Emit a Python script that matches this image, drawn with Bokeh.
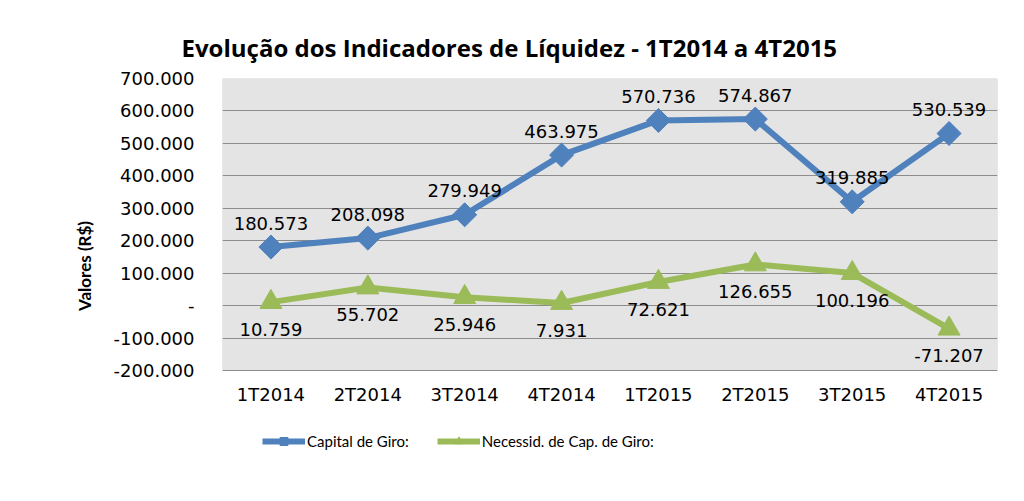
from bokeh.plotting import figure
from bokeh.models import (FactorRange, ColumnDataSource, LabelSet, FixedTicker, Legend, LegendItem,
                          BoxAnnotation, Range1d)
from bokeh.embed import file_html
from bokeh.resources import INLINE
from bokeh.core.properties import value
import math

# ---- data ----
categories = ["1T2014", "2T2014", "3T2014", "4T2014", "1T2015", "2T2015", "3T2015", "4T2015"]
capital_de_giro = [180573, 208098, 279949, 463975, 570736, 574867, 319885, 530539]
necessid_cap_giro = [10759, 55702, 25946, 7931, 72621, 126655, 100196, -71207]
y_ticks = [-200000, -100000, 0, 100000, 200000, 300000, 400000, 500000, 600000, 700000]
y_tick_labels = ["-200.000", "-100.000", "-", "100.000", "200.000", "300.000", "400.000", "500.000", "600.000", "700.000"]
series_names = ["Capital de Giro:", "Necessid. de Cap. de Giro:"]
title_text = "Evolução dos Indicadores de Líquidez - 1T2014 a 4T2015"
y_axis_title = "Valores (R$)"
y_min, y_max = -200000, 700000

BLUE = "#4F81BD"
GREEN = "#9BBB59"
GRID = "#8C8C8C"
TXT = "#000000"
NUMFONT = "DejaVu Sans"

# layout: the frame reaches below the plot area so that the legend can sit there
W, H = 1008, 485
TOP, BOTTOM_BORDER = 78, 32
AREA_BOTTOM = 370                      # pixel row of the -200.000 line
px = (y_max - y_min) / (AREA_BOTTOM - TOP)
frame_bottom = H - BOTTOM_BORDER
y_start = y_min - (frame_bottom - AREA_BOTTOM) * px


def fmt(v):
    return f"{v:,}".replace(",", ".")


src = ColumnDataSource(dict(
    x=categories,
    cap=capital_de_giro,
    nec=necessid_cap_giro,
    cap_lbl=[fmt(v) for v in capital_de_giro],
    nec_lbl=[fmt(v) for v in necessid_cap_giro],
))

p = figure(width=W, height=H, x_range=FactorRange(*categories),
           y_range=Range1d(y_start, y_max), output_backend="svg", toolbar_location=None,
           min_border_left=222, min_border_right=11, min_border_top=TOP,
           min_border_bottom=BOTTOM_BORDER)

p.title.text = title_text
p.title.text_font = "Open Sans"
p.title.text_font_style = "bold"
p.title.text_font_size = "24px"
p.title.align = "left"
p.title.offset = -41
p.title.standoff = 30
p.title.text_color = TXT

p.background_fill_color = "white"
p.border_fill_color = "white"
p.outline_line_color = None

# grey plot area (from -200.000 to 700.000)
p.add_layout(BoxAnnotation(bottom=y_min, top=y_max, fill_color="#E4E4E4", fill_alpha=1,
                           line_color=GRID, line_width=1, level="image"))

p.xgrid.grid_line_color = None
p.ygrid.grid_line_color = GRID
p.ygrid.grid_line_width = 1
p.ygrid.ticker = FixedTicker(ticks=y_ticks)

p.yaxis.ticker = FixedTicker(ticks=y_ticks)
p.yaxis.major_label_overrides = {t: l for t, l in zip(y_ticks, y_tick_labels)}
for ax in (p.xaxis, p.yaxis):
    ax.axis_line_color = None
    ax.major_tick_line_color = None
    ax.minor_tick_line_color = None
    ax.major_label_text_font = NUMFONT
    ax.major_label_text_font_size = "18px"
    ax.major_label_text_color = TXT
p.yaxis.major_label_standoff = 22
p.xaxis.major_label_standoff = 7
p.xaxis.fixed_location = y_min

p.yaxis.axis_label = y_axis_title
p.yaxis.axis_label_text_font = "Lato"
p.yaxis.axis_label_text_font_style = "bold"
p.yaxis.axis_label_text_font_size = "17px"
p.yaxis.axis_label_text_color = TXT
p.yaxis.axis_label_standoff = 16

l1 = p.line("x", "cap", source=src, line_color=BLUE, line_width=6)
m1 = p.scatter("x", "cap", source=src, marker="square", angle=math.pi / 4, size=17,
               fill_color=BLUE, line_color=BLUE)
l2 = p.line("x", "nec", source=src, line_color=GREEN, line_width=6)
m2 = p.scatter("x", "nec", source=src, marker="triangle", size=22,
               fill_color=GREEN, line_color=GREEN)

p.add_layout(LabelSet(x="x", y="cap", text="cap_lbl", source=src, y_offset=24,
                      text_align="center", text_baseline="middle",
                      text_font=value(NUMFONT), text_font_size="18px", text_color=TXT))
p.add_layout(LabelSet(x="x", y="nec", text="nec_lbl", source=src, y_offset=-27,
                      text_align="center", text_baseline="middle",
                      text_font=value(NUMFONT), text_font_size="18px", text_color=TXT))

legend = Legend(items=[LegendItem(label=series_names[0], renderers=[l1, m1]),
                       LegendItem(label=series_names[1], renderers=[l2, m2])],
                location=(40, 2), orientation="horizontal",
                label_text_font="Lato", label_text_font_size="15px", label_text_color=TXT,
                glyph_width=43, glyph_height=20, label_standoff=2, spacing=28,
                padding=0, margin=0, border_line_color=None, background_fill_alpha=0)
p.add_layout(legend, "center")

open("out.html", "w").write(file_html(p, INLINE))
